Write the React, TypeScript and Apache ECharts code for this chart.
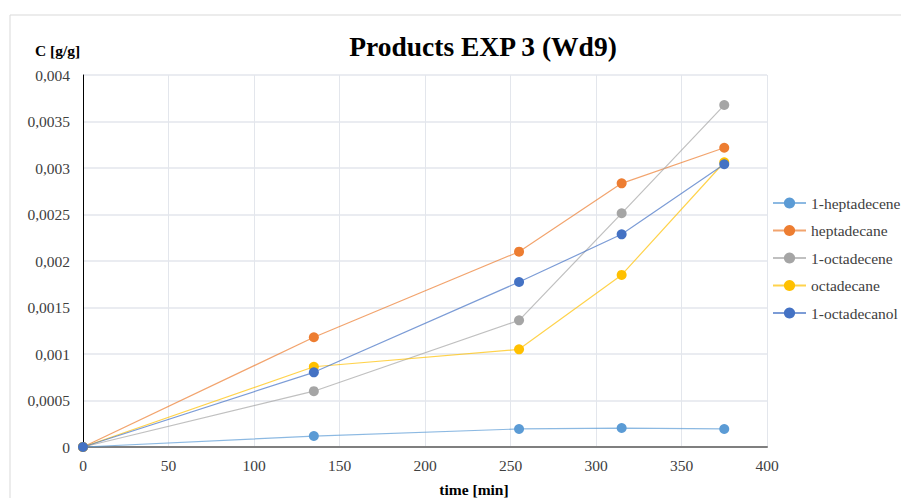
import React, { useEffect, useRef } from "react";
import * as echarts from "echarts";

const times = [0, 135, 255, 315, 375];
const seriesNames = ["1-heptadecene", "heptadecane", "1-octadecene", "octadecane", "1-octadecanol"];
const heptadecene1 = [0, 0.000118, 0.000194, 0.000204, 0.000194];
const heptadecane = [0, 0.00118, 0.0021, 0.002835, 0.003218];
const octadecene1 = [0, 0.0006, 0.001362, 0.002513, 0.003677];
const octadecane = [0, 0.000863, 0.00105, 0.00185, 0.003062];
const octadecanol1 = [0, 0.000803, 0.001774, 0.002287, 0.00304];
const seriesColors = ["#5B9BD5", "#ED7D31", "#A5A5A5", "#FFC000", "#4472C4"];
const xTicks = { min: 0, max: 400, interval: 50 };
const yTicks = { min: 0, max: 0.004, interval: 0.0005 };

const FONT = '"Liberation Serif", "Times New Roman", serif';

export default function App() {
  const ref = useRef<HTMLDivElement>(null);
  useEffect(() => {
    if (!ref.current) return;
    const chart = echarts.init(ref.current, undefined, { renderer: "svg" });
    const allValues = [heptadecene1, heptadecane, octadecene1, octadecane, octadecanol1];
    chart.setOption({
      animation: false,
      backgroundColor: "#ffffff",
      title: {
        text: "Products EXP 3 (Wd9)",
        left: 478,
        top: 27,
        textAlign: "center",
        textStyle: { fontFamily: FONT, fontSize: 27.5, fontWeight: "bold", color: "#000000" },
      },
      graphic: [
        {
          type: "rect",
          shape: { x: 10, y: 15, width: 900, height: 495 },
          style: { fill: "none", stroke: "#d9d9d9", lineWidth: 1 },
          silent: true,
          z: -1,
        },
        {
          type: "text",
          x: 35,
          y: 42,
          style: { text: "C [g/g]", fontFamily: FONT, fontSize: 15.5, fontWeight: "bold", fill: "#000000" },
        },
        {
          type: "text",
          x: 474,
          y: 489,
          style: {
            text: "time [min]",
            fontFamily: FONT,
            fontSize: 15.5,
            fontWeight: "bold",
            fill: "#000000",
            align: "center",
            verticalAlign: "middle",
          },
        },
      ],
      legend: {
        orient: "vertical",
        left: 767,
        top: 190,
        itemWidth: 33,
        itemHeight: 14,
        itemGap: 11.5,
        data: seriesNames,
        textStyle: { fontFamily: FONT, fontSize: 15.5, color: "#404040" },
      },
      grid: { left: 83, right: 134, top: 75, bottom: 51, containLabel: false },
      xAxis: {
        type: "value",
        min: xTicks.min,
        max: xTicks.max,
        interval: xTicks.interval,
        axisLine: { lineStyle: { color: "#7f7f7f", width: 2 } },
        axisTick: { show: false },
        axisLabel: { fontFamily: FONT, fontSize: 15.5, color: "#404040", margin: 10 },
        splitLine: { show: true, lineStyle: { color: "#e3e6ec", width: 1 } },
      },
      yAxis: {
        type: "value",
        min: yTicks.min,
        max: yTicks.max,
        interval: yTicks.interval,
        axisLine: { show: true, lineStyle: { color: "#000000", width: 1 } },
        axisTick: { show: false },
        axisLabel: {
          fontFamily: FONT,
          fontSize: 15.5,
          color: "#404040",
          margin: 13,
          formatter: (v: number) => (v === 0 ? "0" : String(+v.toFixed(4)).replace(".", ",")),
        },
        splitLine: { show: true, lineStyle: { color: "#e3e6ec", width: 1.5 } },
      },
      series: seriesNames.map((name, i) => ({
        name,
        type: "line",
        data: times.map((t, j) => [t, allValues[i][j]]),
        symbol: "circle",
        symbolSize: 10,
        color: seriesColors[i],
        lineStyle: { width: 1.2, color: seriesColors[i], opacity: 0.7 },
        itemStyle: { color: seriesColors[i] },
        z: 2 + i,
      })),
    });
    return () => chart.dispose();
  }, []);
  return (
    <div
      ref={ref}
      style={{ position: "fixed", left: 0, top: 0, width: 901, height: 498 }}
    />
  );
}
